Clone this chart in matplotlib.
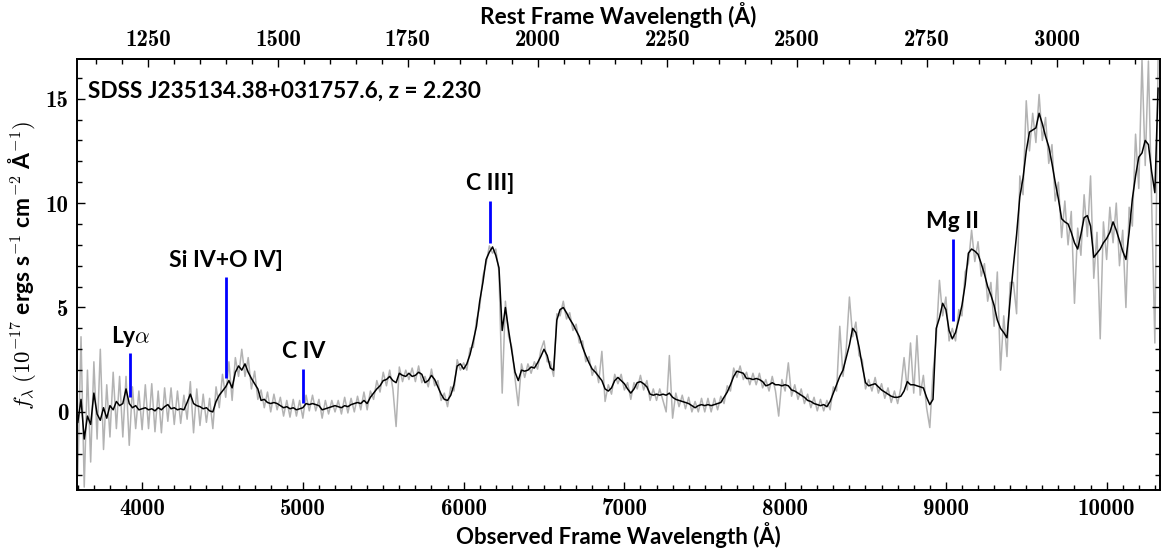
import numpy as np
import matplotlib
matplotlib.use("Agg")
import matplotlib.pyplot as plt
from matplotlib.ticker import MultipleLocator, FixedLocator

plt.rcParams['mathtext.fontset'] = 'cm'

# ---------------- data ----------------
z = 2.230
wave_start = 3600.0   # observed-frame wavelength of first sample (A)
wave_step = 20.0      # sampling step (A)

# smoothed flux (black), 10^-17 erg/s/cm^2/A, one row = 200 A
flux_smooth = [
    -0.5, 0.6, -1.3, -0.2, -0.6, 0.9, -0.1, -0.4, 0.2, -0.3,
    0.3, 0.1, 0.5, 0.3, 0.4, 1.1, 0.4, 0.2, 0.3, 0.1,
    0.15, 0.2, 0.1, 0.15, 0.05, 0.2, 0.1, 0.25, 0.35, 0.15,
    0.2, 0.1, 0.15, 0.1, 0.45, 0.85, 0.4, 0.3, 0.25, 0.15,
    0.2, 0.05, 0.0, 0.5, 0.8, 1.0, 1.2, 1.5, 1.15, 1.9,
    2.2, 2.0, 2.3, 1.9, 1.6, 1.35, 1.1, 0.55, 0.6, 0.45,
    0.4, 0.45, 0.4, 0.3, 0.2, 0.25, 0.15, 0.2, 0.1, 0.15,
    0.2, 0.4, 0.35, 0.4, 0.35, 0.3, 0.1, 0.15, 0.2, 0.25,
    0.3, 0.25, 0.2, 0.3, 0.25, 0.35, 0.4, 0.45, 0.4, 0.55,
    0.4, 0.7, 0.9, 1.1, 1.25, 1.5, 1.55, 1.7, 1.5, 1.4,
    1.85, 1.75, 1.7, 1.85, 1.7, 1.75, 1.9, 1.8, 1.4, 1.5,
    1.75, 1.55, 1.2, 0.85, 0.6, 0.55, 0.8, 1.3, 2.2, 2.3,
    2.05, 2.3, 2.75, 3.4, 4.1, 5.3, 6.2, 7.3, 7.65, 7.9,
    7.5, 6.9, 3.9, 5.0, 3.9, 2.9, 1.9, 1.5, 2.0, 1.95,
    2.0, 2.15, 2.1, 2.35, 2.65, 3.0, 2.7, 2.1, 2.0, 4.4,
    4.9, 5.0, 4.75, 4.45, 4.2, 3.9, 3.6, 3.1, 2.7, 2.35,
    2.05, 1.9, 1.7, 1.5, 1.1, 1.0, 1.15, 1.5, 1.65, 1.5,
    1.35, 1.1, 0.9, 1.1, 1.4, 1.45, 1.35, 1.2, 0.85, 0.8,
    0.85, 0.8, 0.85, 0.8, 0.9, 0.7, 0.6, 0.55, 0.5, 0.45,
    0.4, 0.3, 0.2, 0.3, 0.35, 0.3, 0.35, 0.3, 0.35, 0.4,
    0.45, 0.7, 0.95, 1.3, 1.7, 1.95, 1.9, 1.85, 1.6, 1.6,
    1.55, 1.6, 1.55, 1.45, 1.25, 1.3, 1.4, 1.3, 1.3, 1.25,
    1.3, 1.25, 1.05, 1.0, 0.9, 0.8, 0.7, 0.55, 0.5, 0.4,
    0.35, 0.3, 0.35, 0.25, 0.5, 0.9, 1.3, 1.7, 2.0, 2.6,
    3.2, 4.0, 3.8, 3.1, 2.2, 1.4, 1.25, 1.3, 1.35, 1.2,
    1.05, 0.95, 0.85, 0.75, 0.7, 0.7, 0.75, 1.0, 1.45, 1.3,
    1.3, 1.25, 1.2, 1.15, 0.7, 0.35, 0.6, 4.0, 4.5, 5.2,
    4.9, 3.9, 3.5, 3.8, 4.4, 5.1, 6.1, 7.6, 7.8, 7.7,
    7.55, 7.1, 6.6, 6.0, 5.6, 5.1, 4.4, 4.0, 3.8, 3.55,
    5.4, 7.0, 8.5, 10.3, 11.2, 12.5, 13.4, 13.5, 13.6, 14.3,
    13.8, 13.2, 12.7, 11.9, 11.0, 10.2, 9.25, 9.1, 9.0, 8.6,
    8.1, 7.8, 8.5, 9.3, 9.4, 8.9, 7.4, 7.6, 7.8, 8.1,
    8.3, 8.6, 9.1, 8.7, 8.2, 7.7, 7.3, 8.6, 10.2, 11.3,
    12.2, 12.4, 13.0, 12.8, 11.5, 10.5, 15.5,
]

# raw spectrum minus smoothed spectrum (grey noise), same sampling
raw_minus_smooth = [
    -2.5, 3.0, -2.3, 2.2, -1.8, 1.5, -1.2, 3.4, -2.0, 1.6,
    -1.5, 1.8, -1.3, 1.4, -1.6, 0.6, -2.0, 1.0, -1.1, 0.9,
    -1.0, 1.1, -0.9, 1.2, -1.0, 0.8, -1.1, 0.9, -0.8, 1.0,
    -0.8, 0.9, -0.7, 0.7, -0.8, 0.6, -1.4, 0.8, -0.9, 0.7,
    -0.7, 0.6, -0.8, 0.7, -0.6, 0.8, -0.5, 0.9, -0.6, 0.7,
    -0.5, 1.0, -0.6, 0.7, -0.5, 0.6, -0.5, 0.5, -0.4, 0.5,
    -0.4, 0.4, -0.3, 0.4, -0.4, 0.3, -0.4, 0.4, -0.3, 0.4,
    -0.5, 0.4, -0.3, 0.4, -0.3, 0.3, -0.4, 0.4, -0.3, 0.3,
    -0.3, 0.3, -0.3, 0.4, -0.3, 0.3, -0.4, 0.3, -0.3, 0.4,
    -0.3, 0.3, -0.3, 0.4, -0.3, 0.4, -0.3, 0.3, -0.4, -2.1,
    0.3, -0.3, 0.3, -0.3, 0.4, -0.3, 0.3, -0.4, 0.3, -0.3,
    0.3, -0.3, 0.3, -0.3, 0.3, -0.3, 0.4, -0.3, 0.3, -0.3,
    0.3, -0.3, 0.3, -0.3, 0.3, -0.3, 0.3, -0.2, 0.3, -0.3,
    0.3, -0.2, -3.0, 0.3, -0.3, 0.2, -0.3, -1.2, 0.3, -0.3,
    0.3, -0.3, 0.3, -0.3, 0.3, 0.4, -0.3, 0.3, -0.3, 0.3,
    -0.3, 0.3, -0.3, 0.3, -0.3, 0.3, -0.3, 0.3, -0.3, 0.3,
    -0.3, 0.3, -0.3, 1.4, -0.6, 0.3, -0.3, 0.3, -0.3, 0.3,
    -0.3, 0.3, -0.3, 0.3, -0.3, 0.3, -0.3, 0.3, -0.3, 0.3,
    -0.3, 0.3, -0.3, -0.8, 1.8, -1.0, 0.3, -0.3, 0.3, -0.3,
    0.3, -0.3, 0.3, -0.3, 0.3, -0.3, 0.3, -0.3, 0.3, -0.3,
    0.3, -0.3, 0.3, -0.3, 0.4, -0.3, 0.3, -0.3, 0.3, -0.3,
    0.3, -0.3, 0.3, -0.3, 0.3, -0.3, 0.3, -0.3, -1.5, 0.3,
    -0.3, 1.1, -0.3, 0.3, -0.3, 0.3, -0.3, 0.3, -0.3, 0.3,
    -0.3, 0.3, -0.3, 0.3, -0.4, 0.3, -0.3, 2.4, -0.3, 0.4,
    2.3, -0.4, 0.5, -0.4, 0.3, -0.3, 0.3, -0.3, 0.3, -0.3,
    0.3, -0.3, 0.3, -0.3, 0.3, -0.3, 0.4, 1.6, -0.4, 2.0,
    -0.4, 2.4, -0.4, 0.6, -0.5, -1.1, 1.3, -0.5, 1.8, -0.6,
    0.6, -0.5, 0.5, -0.4, 0.5, -0.5, 0.6, -0.5, 0.9, -0.5,
    0.6, -0.6, 0.5, -0.7, 0.6, -1.0, 2.3, -2.0, 0.8, -0.9,
    0.8, -0.8, -3.8, 1.0, -0.8, 2.4, -0.9, 0.8, -0.7, 0.9,
    -0.8, 0.9, -0.8, 0.9, -0.9, 0.8, -0.9, 1.0, -1.0, 1.0,
    -2.9, 1.0, -1.0, 1.1, -1.0, 2.4, -1.0, 1.0, -4.3, 1.0,
    -1.0, 1.2, -1.0, 1.3, -1.2, 1.0, -2.3, 1.2, -1.3, 2.0,
    -1.5, 4.5, -1.2, 4.0, -1.5, -7.2, 1.5,
]

# emission lines (rest-frame wavelength, A)
line_names = [r'Ly$\alpha$', 'Si IV+O IV]', 'C IV', 'C III]', 'Mg II']
line_rest = [1216.0, 1400.0, 1549.0, 1909.0, 2800.0]
line_bottom = [0.73, 1.61, 0.45, 8.08, 4.33]
line_top = [2.81, 6.45, 2.07, 10.11, 8.29]

object_label = 'SDSS J235134.38+031757.6, z = 2.230'

obs_ticks = [4000, 5000, 6000, 7000, 8000, 9000, 10000]
rest_ticks = [1250, 1500, 1750, 2000, 2250, 2500, 2750, 3000]

# ---------------- plot ----------------
flux_smooth = np.array(flux_smooth)
flux_raw = flux_smooth + np.array(raw_minus_smooth)
wave = wave_start + wave_step * np.arange(len(flux_smooth))

fig = plt.figure(figsize=(11.61, 5.5), dpi=100)
ax = fig.add_axes([77 / 1161, 60 / 550, 1083 / 1161, 431 / 550])

ax.plot(wave, flux_raw, color='#b3b3b3', lw=1.1, zorder=1)
ax.plot(wave, flux_smooth, color='black', lw=1.1, zorder=2)

obs = np.array(line_rest) * (1 + z)
ax.vlines(obs, line_bottom, line_top, color='blue', lw=2, zorder=3)

sans = 'Lato'
for x, t, name in zip(obs, line_top, line_names):
    ax.text(x, t + 0.5, name, ha='center', va='baseline', fontsize=16.5,
            fontfamily=sans, fontweight='bold')

ax.text(0.010, 0.911, object_label, transform=ax.transAxes, ha='left',
        va='baseline', fontsize=16.3, fontfamily=sans, fontweight='bold')

ax.set_xlim(3595, 10332)
ax.set_ylim(-3.74, 16.9)

ax.xaxis.set_major_locator(FixedLocator(obs_ticks))
ax.xaxis.set_minor_locator(MultipleLocator(100))
ax.yaxis.set_major_locator(MultipleLocator(5))
ax.yaxis.set_minor_locator(MultipleLocator(1))

tick_kw = dict(direction='in', labelfontfamily='cmb10', labelsize=16.5)
ax.tick_params(axis='both', which='major', length=6, width=1.0, pad=6, **tick_kw)
ax.tick_params(axis='both', which='minor', length=3.5, width=1.0, **tick_kw)
ax.tick_params(axis='y', which='both', left=True, right=True)
ax.tick_params(axis='x', which='both', top=False, bottom=True)

for s in ax.spines.values():
    s.set_linewidth(1.4)

sec = ax.secondary_xaxis('top', functions=(lambda x: x / (1 + z), lambda x: x * (1 + z)))
sec.xaxis.set_major_locator(FixedLocator(rest_ticks))
sec.xaxis.set_minor_locator(MultipleLocator(50))
sec.tick_params(axis='x', which='major', direction='in', length=6, width=1.0, pad=6,
                labelfontfamily='cmb10', labelsize=16.5)
sec.tick_params(axis='x', which='minor', direction='in', length=3.5, width=1.0)
sec.spines['top'].set_linewidth(1.4)
sec.set_xlabel('Rest Frame Wavelength (Å)', fontsize=16.3, fontfamily=sans,
               fontweight='bold', labelpad=3)

ax.set_xlabel('Observed Frame Wavelength (Å)', fontsize=16, fontfamily=sans,
              fontweight='bold')
ax.xaxis.set_label_coords(0.5, -0.074)
ax.set_ylabel(r'$f_\lambda$ $(10^{-17}$ ergs s$^{-1}$ cm$^{-2}$ Å$^{-1}$$)$',
              fontsize=16.5, fontfamily=sans, fontweight='bold')
ax.yaxis.set_label_coords(-0.036, 0.52)

fig.savefig('out.png', dpi=100)
